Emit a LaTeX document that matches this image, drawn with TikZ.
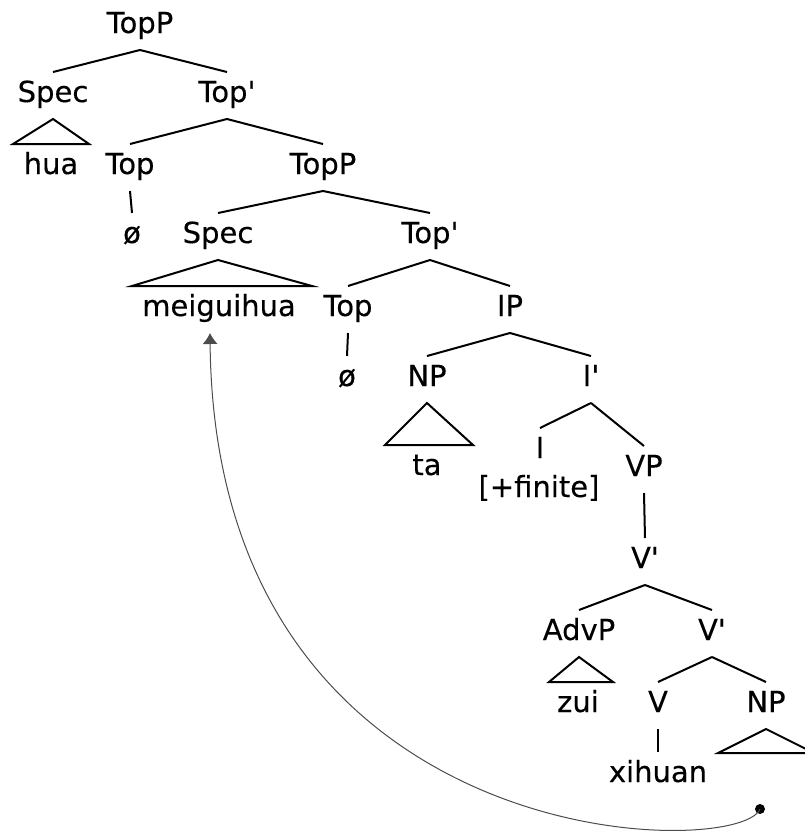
\documentclass[tikz,border=0pt]{standalone}
\usepackage{fontspec}
\setmainfont{DejaVu Sans}[FakeBold=0.3]
\usepackage{tikz}
\usetikzlibrary{arrows.meta}
\newcommand{\xbar}{\textquotesingle}

\begin{document}
\begin{tikzpicture}[x=1pt,y=-1pt,inner sep=0pt,
  cat/.style={font=\fontsize{29}{34}\selectfont,text height=22pt,text depth=9pt,outer ysep=8pt,anchor=base},
  branch/.style={line width=2pt},
  move/.style={line width=1pt,black!70,-{Latex[length=11pt,width=15pt]}}]
\useasboundingbox (0,0) rectangle (804,836);

% top layer
\node[cat] (TopP1) at (140,33) {TopP};
\node[cat] (spec1) at (53,102) {Spec};
\node[cat] (topbar1) at (227,102) {Top\xbar};
\node[cat] (hua) at (51,174) {hua};
\node[cat] (top1) at (130,174) {Top};
\node[cat] (TopP2) at (323,174) {TopP};
\node[cat] (null1) at (132,243) {ø};
\node[cat] (spec2) at (218,243) {Spec};
\node[cat] (topbar2) at (430,243) {Top\xbar};
\node[cat] (meig) at (219,316) {meiguihua};
\node[cat] (top2) at (348,316) {Top};
\node[cat] (IP) at (510,316) {IP};
% IP
\node[cat] (null2) at (347,386) {ø};
\node[cat] (NP1) at (427,386) {NP};
\node[cat] (Ibar) at (591,386) {I\xbar};
\node[cat] (ta) at (427,475) {ta};
\node[cat] (I) at (540,458) {I};
\node[cat] (feat) at (539,497) {[+finite]};
\node[cat] (VP) at (644,476) {VP};
\node[cat] (Vbar1) at (645,568) {V\xbar};
\node[cat] (AdvP) at (579,640) {AdvP};
\node[cat] (Vbar2) at (712,640) {V\xbar};
\node[cat] (zui) at (578,712) {zui};
\node[cat] (V) at (658,712) {V};
\node[cat] (NP2) at (766,712) {NP};
\node[cat] (xihuan) at (658,782) {xihuan};
\coordinate (gap) at (760,809);

\draw[branch] (TopP1.south) edge (spec1.north) edge (topbar1.north);
\draw[branch] (topbar1.south) edge (top1.north) edge (TopP2.north);
\draw[branch] (top1.south) edge (null1.north);
\draw[branch] (TopP2.south) edge (spec2.north) edge (topbar2.north);
\draw[branch] (topbar2.south) edge (top2.north) edge (IP.north);
\draw[branch] (top2.south) edge (null2.north);
\draw[branch] (IP.south) edge (NP1.north) edge (Ibar.north);
\draw[branch] (Ibar.south) edge (I.north) edge (VP.north);
\draw[branch] (VP.south) edge (Vbar1.north);
\draw[branch] (Vbar1.south) edge (AdvP.north) edge (Vbar2.north);
\draw[branch] (Vbar2.south) edge (V.north) edge (NP2.north);
\draw[branch] (V.south) edge (xihuan.north);

% triangles
\draw[branch] (spec1.south) -- ([xshift=-38pt]hua.north) -- ([xshift=38pt]hua.north) -- cycle;
\draw[branch] (spec2.south) -- ([xshift=-87pt]meig.north) -- ([xshift=93pt]meig.north) -- cycle;
\draw[branch] (NP1.south) -- ([xshift=-42pt]ta.north) -- ([xshift=46pt]ta.north) -- cycle;
\draw[branch] (AdvP.south) -- ([xshift=-29pt]zui.north) -- ([xshift=35pt]zui.north) -- cycle;
\draw[branch] (NP2.south) -- +(-48,24) -- +(48,24) -- cycle;

% movement
\fill (gap) circle (5pt);
\draw[move] (gap) .. controls (740,860) and (215,860) .. ([xshift=-9pt]meig.south);
\end{tikzpicture}
\end{document}
